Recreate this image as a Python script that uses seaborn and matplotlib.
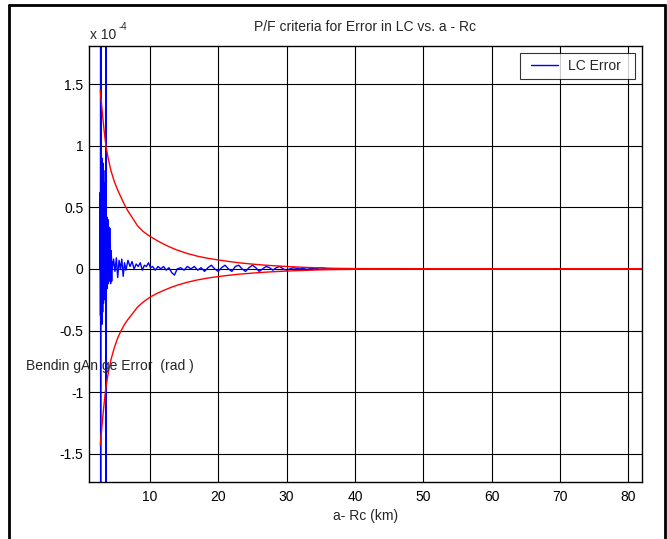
import matplotlib
matplotlib.use("Agg")
import matplotlib.pyplot as plt
import seaborn as sns
import pandas as pd
from matplotlib.lines import Line2D
from matplotlib.legend_handler import HandlerLine2D

# valori in unita di 1e-4 rad
lc_x = [2.70, 2.74, 2.78, 2.80, 2.805, 2.81, 2.83, 2.86, 2.89, 2.92, 2.95, 2.98, 3.01, 3.04, 3.07,
        3.10, 3.13, 3.16, 3.19, 3.22, 3.25, 3.28, 3.31, 3.34, 3.37, 3.40, 3.43, 3.46, 3.49, 3.52,
        3.55, 3.58, 3.60, 3.605, 3.61, 3.63, 3.66, 3.69, 3.72, 3.75, 3.78, 3.81, 3.84, 3.87, 3.90,
        3.93, 3.96, 3.99, 4.02, 4.06, 4.10, 4.14, 4.18, 4.22, 4.26, 4.30, 4.34, 4.38, 4.42, 4.46,
        4.50, 4.70, 4.90, 5.10, 5.30, 5.50, 5.70, 5.90, 6.10, 6.30, 6.50, 6.80, 7.10, 7.40, 7.70,
        8.00, 8.30, 8.60, 8.90, 9.20, 9.50, 9.80, 10.1, 10.4, 10.8, 11.2, 11.6, 12.0, 12.4, 12.8,
        13.2, 13.6, 14.0, 14.5, 15.0, 15.5, 16.0, 16.5, 17.0, 17.5, 18.0, 18.5, 19.0, 19.5, 20.0,
        20.5, 21.0, 21.5, 22.0, 22.5, 23.0, 23.5, 24.0, 24.5, 25.0, 25.5, 26.0, 26.5, 27.0, 27.5,
        28.0, 28.5, 29.0, 29.5, 30.0, 31.0, 32.0, 33.0, 34.0, 35.0, 36.0, 40.0, 50.0, 60.0, 70.0,
        82.0]
lc_err = [0.00, 0.62, -0.38, 1.81, -1.73, 1.81, 0.85, -0.42, 0.88, -0.30, 0.79, -0.45, 0.90, -0.25, 0.72,
          -0.35, 0.86, -0.20, 0.65, -0.28, 0.80, -0.18, 0.60, -0.22, 0.70, -0.15, 0.55, -0.25, 0.48, -0.12,
          0.42, -0.20, 1.81, -1.73, 1.81, 0.44, -0.14, 0.40, -0.10, 0.42, -0.16, 0.35, -0.08, 0.40, -0.12,
          0.30, -0.05, 0.34, -0.10, 0.25, -0.04, 0.33, -0.08, 0.20, -0.12, 0.15, -0.03, 0.10, -0.10, 0.06,
          0.00, 0.08, -0.02, 0.09, -0.07, 0.07, 0.00, 0.08, -0.06, 0.05, -0.01, 0.07, 0.02, 0.06, 0.00,
          0.04, 0.02, 0.05, -0.01, 0.03, 0.02, 0.05, 0.01, 0.02, -0.01, 0.02, 0.00, 0.02, -0.01, 0.01,
          -0.03, -0.05, 0.00, 0.01, -0.01, 0.02, 0.00, 0.02, -0.01, 0.01, -0.02, 0.01, 0.03, 0.00, -0.02,
          0.01, 0.03, 0.00, -0.02, 0.02, 0.03, 0.00, -0.02, 0.01, 0.03, 0.01, -0.02, 0.00, 0.02, 0.01,
          -0.01, 0.01, 0.02, 0.00, -0.01, 0.01, 0.00, 0.01, 0.00, 0.01, 0.00, 0.00, 0.00, 0.00, 0.00,
          0.00]

# soglie P/F (rosso)
pf_x = [2.75, 2.90, 3.10, 3.30, 3.57, 3.90, 4.30, 4.80, 5.30, 5.80, 6.30, 6.80, 7.50, 8.20,
        9.00, 10.0, 11.0, 12.0, 13.0, 14.0, 15.5, 17.0, 18.5, 20.0, 21.5, 23.0, 25.0, 27.0,
        29.0, 31.0, 33.0, 35.0, 37.0, 40.0, 50.0, 82.0]
pf_upper = [1.45, 1.36, 1.24, 1.13, 1.00, 0.90, 0.80, 0.71, 0.64, 0.58, 0.52, 0.47, 0.41, 0.35,
            0.305, 0.265, 0.232, 0.202, 0.176, 0.153, 0.125, 0.103, 0.086, 0.073, 0.061, 0.050, 0.039, 0.030,
            0.023, 0.017, 0.012, 0.008, 0.005, 0.003, 0.002, 0.002]
pf_lower = [-1.43, -1.34, -1.21, -1.10, -0.96, -0.85, -0.74, -0.64, -0.56, -0.50, -0.45, -0.41, -0.36, -0.31,
            -0.27, -0.23, -0.20, -0.175, -0.152, -0.132, -0.108, -0.089, -0.074, -0.062, -0.052, -0.043, -0.034, -0.026,
            -0.020, -0.015, -0.011, -0.007, -0.005, -0.003, -0.002, -0.002]

x_ticks = [10, 20, 30, 40, 50, 60, 70, 80]
y_ticks = [-1.5, -1, -0.5, 0, 0.5, 1, 1.5]
y_tick_labels = ['-1.5', '-1', '-0.5', '0', '0.5', '1', '1.5']

sns.set_style("white")
plt.rcParams['font.family'] = ['Liberation Sans', 'DejaVu Sans']
plt.rcParams['axes.unicode_minus'] = False

df_lc = pd.DataFrame({'x': lc_x, 'err': lc_err})
df_pf = pd.DataFrame({'x': pf_x, 'up': pf_upper, 'low': pf_lower})

fig = plt.figure(figsize=(6.67, 5.39), dpi=100)
ax = fig.add_axes([89 / 667, 1 - 482 / 539, 553 / 667, 436 / 539])

sns.lineplot(data=df_lc, x='x', y='err', ax=ax, color='#0000ff', linewidth=1.0,
             sort=False, estimator=None, label='LC Error')
sns.lineplot(data=df_pf, x='x', y='up', ax=ax, color='#ff0000', linewidth=1.0,
             sort=False, estimator=None, legend=False)
sns.lineplot(data=df_pf, x='x', y='low', ax=ax, color='#ff0000', linewidth=1.0,
             sort=False, estimator=None, legend=False)

ax.set_xlim(1.1, 82)
ax.set_ylim(-1.73, 1.81)
ax.set_xticks(x_ticks)
ax.set_yticks(y_ticks)
ax.set_yticklabels(y_tick_labels)
ax.grid(True, color='black', linewidth=0.8, linestyle='-')
ax.set_axisbelow(True)
ax.tick_params(direction='in', length=4, labelsize=10, colors='black')
ax.tick_params(axis='x', pad=6)
ax.tick_params(axis='y', pad=4)
for s in ax.spines.values():
    s.set_color('black')
    s.set_linewidth(1.0)

ax.set_xlabel('a- Rc (km)', fontsize=10, va='center')
ax.xaxis.set_label_coords(0.5, -0.078)
ax.set_ylabel('')

fig.text(365.5 / 667, 1 - 27 / 539, 'P/F criteria for Error in LC vs. a - Rc',
         ha='center', va='center', fontsize=10)
fig.text(26 / 667, 1 - 366 / 539, 'Bendin gAn ge Error  (rad )',
         ha='left', va='center', fontsize=10)
fig.text(90 / 667, 1 - 35 / 539, 'x 10', ha='left', va='center', fontsize=10)
fig.text(119 / 667, 1 - 27 / 539, '-4', ha='left', va='center', fontsize=7)

# legenda con piu margine laterale
handles, labels = ax.get_legend_handles_labels()
leg = ax.legend(handles, ['LC Error  '], loc='upper right', fontsize=10, frameon=True, fancybox=False,
                borderaxespad=0.5, handlelength=2.35, borderpad=0.45, handletextpad=0.7,
                handler_map={Line2D: HandlerLine2D(xpad=0.35)})
leg.get_frame().set_edgecolor('black')
leg.get_frame().set_linewidth(0.8)

# cornice esterna
fig.add_artist(Line2D([8.5 / 667, 8.5 / 667], [0, 1 - 4.5 / 539], color='black', linewidth=2))
fig.add_artist(Line2D([8.5 / 667, 665 / 667], [1 - 4.5 / 539, 1 - 4.5 / 539], color='black', linewidth=2))
fig.add_artist(Line2D([665 / 667, 665 / 667], [0, 1 - 4.5 / 539], color='black', linewidth=2))

fig.savefig('out.png', dpi=100, facecolor='white')
